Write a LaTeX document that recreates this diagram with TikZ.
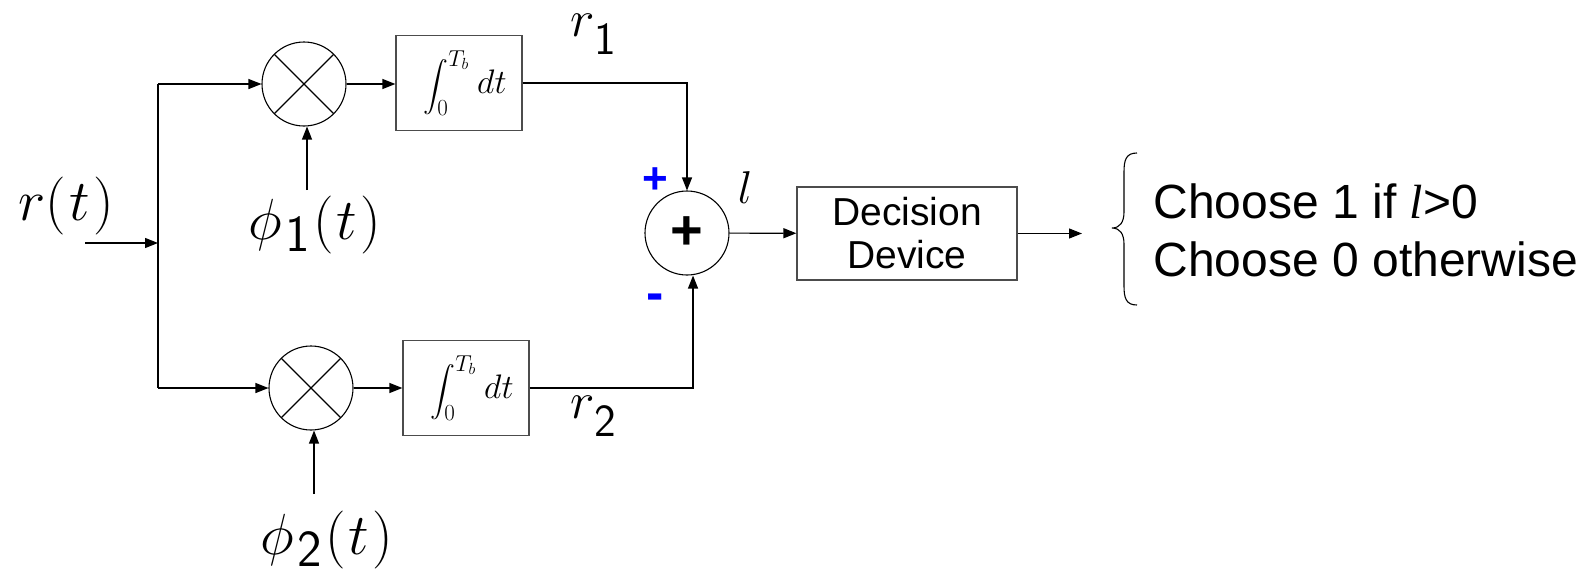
\RequirePackage{fix-cm}
\documentclass[tikz,border=0pt]{standalone}
\usepackage{exscale}
\usepackage{fontspec}
\newfontfamily\arialf{Liberation Sans}
\newfontfamily\timesf{Liberation Serif}
\usetikzlibrary{arrows.meta}
\newcommand\mylim[1]{\hbox{\fontsize{23}{23}\selectfont$#1$}}
\newcommand\myintlabel{\raisebox{-7pt}{\hspace*{12pt}{\fontsize{27}{27}\selectfont$\displaystyle\int_{\mylim{0}}^{\mylim{T_b}}$}\hspace{8pt}{\fontsize{34}{34}\selectfont$dt$}}}
\begin{document}
\begin{tikzpicture}[x=1pt,y=-1pt,line width=1.2pt,
  >={Triangle[length=13pt,width=10pt]},
  mult/.style={circle,draw,minimum size=84pt,inner sep=0pt,line width=1.1pt,
    path picture={\draw[line width=1.1pt] (path picture bounding box.north east) -- (path picture bounding box.south west)
      (path picture bounding box.north west) -- (path picture bounding box.south east);}},
  intbox/.style={draw=black!70,minimum width=126pt,minimum height=95pt,inner sep=0pt},
  sumnode/.style={circle,draw,minimum size=84pt,inner sep=0pt,line width=1.1pt,
    font=\arialf\bfseries\fontsize{56}{56}\selectfont},
  decbox/.style={draw=black!70,minimum width=220pt,minimum height=93pt,inner sep=0pt,align=center,
    font=\arialf\fontsize{39}{43}\selectfont},
  bigmath/.style={inner sep=0pt,font=\fontsize{58}{58}\selectfont},
  submath/.style={inner sep=0pt,font=\fontsize{52}{52}\selectfont},
  signlbl/.style={inner sep=0pt,text=blue,font=\arialf\bfseries\fontsize{44}{44}\selectfont},
  choosetxt/.style={inner sep=0pt,anchor=base west,font=\arialf\fontsize{48}{48}\selectfont}]
\useasboundingbox (0,0) rectangle (1585,574);
% blocks
\node[mult] (m1) at (304,84) {};
\node[intbox] (i1) at (459,83) {\myintlabel};
\node[mult] (m2) at (311,388) {};
\node[intbox] (i2) at (466,388) {\myintlabel};
\node[sumnode] (s) at (687,233) {+};
\node[decbox] (d) at (907,233.5) {Decision\\Device};
% coordinates
\coordinate (in) at (85,243);
\coordinate (j) at (158,243);
\coordinate (jt) at (158,84);
\coordinate (jb) at (158,388);
\coordinate (p1) at (307,190);
\coordinate (p2) at (314,494);
\coordinate (out) at (1082,233.5);
% connectors
\draw[->] (in) -- (j);
\draw (jt) -- (jb);
\draw[->] (jt) -- (m1);
\draw[->] (jb) -- (m2);
\draw[->] (p1) -- (p1 |- m1.south);
\draw[->] (p2) -- (p2 |- m2.south);
\draw[->] (m1) -- (i1.west |- m1);
\draw[->] (m2) -- (i2.west |- m2);
\draw[->] (i1.east) -| (s.north);
\draw[->] (i2.east) -| ([xshift=6pt]s.south);
\draw[->] (s) -- (d);
\draw[->] (d) -- (out);
% labels
\node[bigmath] (rt) at (66,206) {$r(\mkern1mu t\mkern1mu)$};
\node[bigmath,anchor=base] (ph1) at (315,239) {$\phi\mkern1mu$\raisebox{-12pt}{\fontsize{52}{52}\selectfont\sffamily 1}$\mkern1mu(\mkern1mu t\mkern1mu)$};
\node[bigmath,anchor=base] (ph2) at (327,554) {$\phi\mkern1mu$\raisebox{-12pt}{\fontsize{52}{52}\selectfont\sffamily 2}$\mkern1mu(\mkern1mu t\mkern1mu)$};
\node[submath,anchor=base] (r1) at (593,36) {$r$\raisebox{-18pt}{\fontsize{46}{46}\selectfont\sffamily 1}};
\node[submath,anchor=base] (r2) at (593,418) {$r$\raisebox{-18pt}{\fontsize{46}{46}\selectfont\sffamily 2}};
\node[inner sep=0pt,anchor=base,font=\fontsize{46}{46}\selectfont] (l) at (745,203) {$l$};
\node[signlbl] (plus) at (655,181) {+};
\node[signlbl,font=\arialf\bfseries\fontsize{52}{52}\selectfont] (minus) at (655,302) {-};
% brace
\draw[line width=1.1pt] (1137,153) .. controls (1126,153) and (1124,160) .. (1124,172)
  -- (1124,212) .. controls (1124,222) and (1120,228) .. (1112,228)
  .. controls (1120,228) and (1124,234) .. (1124,244)
  -- (1124,286) .. controls (1124,298) and (1126,305) .. (1137,305);
\node[choosetxt] (c1) at (1153,218) {Choose 1 if {\timesf\itshape l}>0};
\node[choosetxt] (c2) at (1153,276) {Choose 0 otherwise};
\end{tikzpicture}
\end{document}
